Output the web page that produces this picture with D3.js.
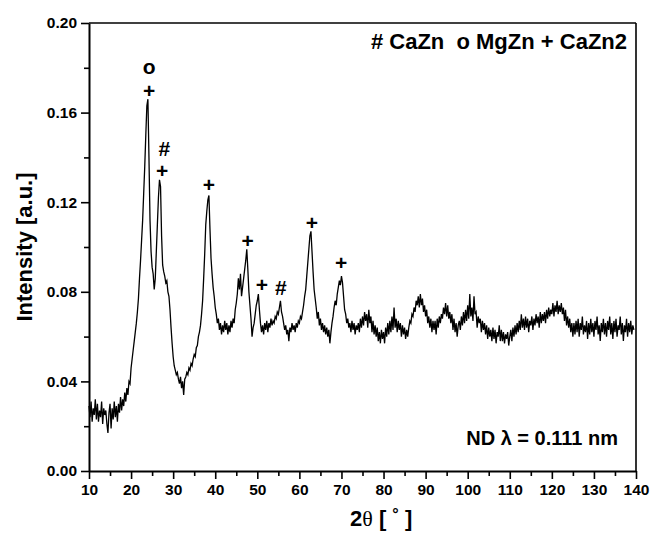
<!DOCTYPE html>
<html>
<head>
<meta charset="utf-8">
<script src="https://cdn.jsdelivr.net/npm/d3@7"></script>
<style>
  body { margin: 0; background: #fff; }
  svg { display: block; font-family: "Liberation Sans", Arial, sans-serif; }
  .tick text { font-weight: bold; font-size: 15.5px; }
</style>
</head>
<body>
<svg width="651" height="533"></svg>
<script>
// scan grid: first angle and step of the measured intensities (degrees 2theta)
const angleStart = 10;
const angleStep = 0.25;

// intensity, one value per 0.25 degree, 8 per row (2 degrees)
const intensity = [
  0.029, 0.024, 0.031, 0.022, 0.028, 0.025, 0.032, 0.023, // 10
  0.030, 0.022, 0.027, 0.024, 0.031, 0.021, 0.028, 0.025, // 12
  0.027, 0.021, 0.017, 0.026, 0.030, 0.019, 0.028, 0.023, // 14
  0.031, 0.024, 0.029, 0.022, 0.030, 0.026, 0.033, 0.027, // 16
  0.032, 0.029, 0.035, 0.031, 0.037, 0.034, 0.040, 0.039, // 18
  0.046, 0.050, 0.054, 0.058, 0.062, 0.066, 0.071, 0.077, // 20
  0.086, 0.094, 0.103, 0.112, 0.124, 0.136, 0.150, 0.163, // 22
  0.166, 0.140, 0.112, 0.098, 0.091, 0.088, 0.081, 0.086, // 24
  0.098, 0.110, 0.122, 0.130, 0.127, 0.105, 0.092, 0.089, // 26
  0.087, 0.084, 0.085, 0.080, 0.078, 0.072, 0.064, 0.057, // 28
  0.051, 0.047, 0.045, 0.043, 0.044, 0.041, 0.039, 0.042, // 30
  0.037, 0.040, 0.034, 0.041, 0.042, 0.044, 0.043, 0.046, // 32
  0.045, 0.048, 0.047, 0.050, 0.052, 0.051, 0.055, 0.056, // 34
  0.060, 0.062, 0.065, 0.070, 0.076, 0.086, 0.097, 0.110, // 36
  0.116, 0.121, 0.123, 0.108, 0.095, 0.088, 0.082, 0.078, // 38
  0.073, 0.070, 0.066, 0.068, 0.063, 0.066, 0.061, 0.065, // 40
  0.062, 0.067, 0.063, 0.066, 0.061, 0.065, 0.062, 0.067, // 42
  0.064, 0.068, 0.066, 0.072, 0.075, 0.079, 0.086, 0.081, // 44
  0.088, 0.078, 0.082, 0.086, 0.090, 0.094, 0.099, 0.090, // 46
  0.080, 0.074, 0.068, 0.060, 0.064, 0.066, 0.070, 0.074, // 48
  0.076, 0.079, 0.072, 0.066, 0.062, 0.065, 0.061, 0.066, // 50
  0.063, 0.067, 0.062, 0.066, 0.064, 0.068, 0.065, 0.067, // 52
  0.066, 0.069, 0.068, 0.071, 0.070, 0.073, 0.076, 0.071, // 54
  0.069, 0.066, 0.063, 0.065, 0.061, 0.063, 0.058, 0.064, // 56
  0.062, 0.066, 0.063, 0.065, 0.062, 0.066, 0.064, 0.067, // 58
  0.066, 0.069, 0.068, 0.071, 0.074, 0.078, 0.081, 0.087, // 60
  0.093, 0.099, 0.105, 0.107, 0.098, 0.089, 0.081, 0.077, // 62
  0.073, 0.068, 0.071, 0.065, 0.068, 0.063, 0.066, 0.062, // 64
  0.065, 0.061, 0.064, 0.060, 0.063, 0.057, 0.062, 0.066, // 66
  0.069, 0.073, 0.076, 0.074, 0.079, 0.082, 0.085, 0.083, // 68
  0.087, 0.084, 0.078, 0.072, 0.070, 0.066, 0.068, 0.064, // 70
  0.066, 0.062, 0.067, 0.063, 0.066, 0.061, 0.065, 0.063, // 72
  0.066, 0.062, 0.068, 0.064, 0.069, 0.065, 0.071, 0.067, // 74
  0.070, 0.064, 0.072, 0.066, 0.069, 0.062, 0.067, 0.061, // 76
  0.065, 0.060, 0.064, 0.058, 0.062, 0.057, 0.063, 0.059, // 78
  0.062, 0.057, 0.064, 0.060, 0.066, 0.061, 0.067, 0.062, // 80
  0.069, 0.063, 0.073, 0.064, 0.068, 0.062, 0.067, 0.063, // 82
  0.066, 0.060, 0.065, 0.061, 0.064, 0.059, 0.063, 0.060, // 84
  0.064, 0.067, 0.066, 0.070, 0.069, 0.073, 0.071, 0.076, // 86
  0.074, 0.078, 0.073, 0.079, 0.074, 0.077, 0.071, 0.074, // 88
  0.069, 0.072, 0.066, 0.069, 0.064, 0.068, 0.062, 0.067, // 90
  0.063, 0.067, 0.061, 0.068, 0.064, 0.069, 0.066, 0.070, // 92
  0.068, 0.073, 0.070, 0.075, 0.069, 0.074, 0.068, 0.071, // 94
  0.066, 0.070, 0.063, 0.068, 0.062, 0.066, 0.060, 0.065, // 96
  0.067, 0.063, 0.069, 0.065, 0.071, 0.066, 0.072, 0.067, // 98
  0.074, 0.068, 0.079, 0.069, 0.073, 0.067, 0.078, 0.070, // 100
  0.071, 0.064, 0.069, 0.066, 0.068, 0.062, 0.067, 0.063, // 102
  0.066, 0.061, 0.065, 0.059, 0.064, 0.060, 0.063, 0.058, // 104
  0.064, 0.059, 0.063, 0.057, 0.062, 0.060, 0.065, 0.058, // 106
  0.063, 0.058, 0.062, 0.057, 0.061, 0.059, 0.062, 0.056, // 108
  0.060, 0.063, 0.058, 0.064, 0.060, 0.065, 0.061, 0.066, // 110
  0.062, 0.067, 0.063, 0.070, 0.064, 0.068, 0.063, 0.069, // 112
  0.064, 0.068, 0.062, 0.067, 0.065, 0.069, 0.063, 0.068, // 114
  0.065, 0.070, 0.066, 0.069, 0.064, 0.071, 0.066, 0.070, // 116
  0.067, 0.071, 0.066, 0.072, 0.068, 0.073, 0.069, 0.072, // 118
  0.070, 0.075, 0.069, 0.074, 0.071, 0.076, 0.070, 0.074, // 120
  0.071, 0.075, 0.070, 0.073, 0.067, 0.072, 0.065, 0.069, // 122
  0.064, 0.068, 0.062, 0.066, 0.060, 0.066, 0.061, 0.067, // 124
  0.062, 0.068, 0.060, 0.066, 0.063, 0.069, 0.061, 0.065, // 126
  0.062, 0.067, 0.059, 0.066, 0.061, 0.068, 0.062, 0.066, // 128
  0.060, 0.067, 0.063, 0.069, 0.061, 0.065, 0.058, 0.066, // 130
  0.062, 0.068, 0.061, 0.066, 0.060, 0.067, 0.063, 0.069, // 132
  0.061, 0.066, 0.059, 0.067, 0.062, 0.068, 0.060, 0.065, // 134
  0.063, 0.069, 0.061, 0.066, 0.058, 0.065, 0.062, 0.068, // 136
  0.060, 0.066, 0.062, 0.067, 0.061, 0.065, 0.063          // 138
];

// phase markers placed above the reflections
const markAngles = [24.3, 24.3, 27.9, 27.4, 38.5, 47.7, 51.1, 55.6, 63.0, 69.9];
const markLevels = [0.1805, 0.170, 0.144, 0.134, 0.128, 0.103, 0.083, 0.082, 0.111, 0.093];
const markSymbols = ["o", "+", "#", "+", "+", "+", "+", "#", "+", "+"];

const xTicks = d3.range(10, 141, 10);
const yTicks = [0, 0.04, 0.08, 0.12, 0.16, 0.20];

const svg = d3.select("svg");
const margin = { top: 23, right: 15, bottom: 62, left: 89 };
const width = 651 - margin.left - margin.right;
const height = 533 - margin.top - margin.bottom;

const x = d3.scaleLinear().domain([10, 140]).range([0, width]);
const y = d3.scaleLinear().domain([0, 0.2]).range([height, 0]);

const g = svg.append("g").attr("transform", `translate(${margin.left},${margin.top})`);

const points = intensity.map((v, i) => [angleStart + i * angleStep, v]);

// data line
const line = d3.line().x(d => x(d[0])).y(d => y(d[1]));
g.append("path")
  .datum(points)
  .attr("fill", "none")
  .attr("stroke", "#000")
  .attr("stroke-width", 1.3)
  .attr("d", line);

// frame top and right
g.append("line").attr("x1", 0).attr("x2", width).attr("y1", 0).attr("y2", 0)
  .attr("stroke", "#000").attr("stroke-width", 1.6);
g.append("line").attr("x1", width).attr("x2", width).attr("y1", 0).attr("y2", height)
  .attr("stroke", "#000").attr("stroke-width", 1.6);

// minor ticks
g.append("g")
  .attr("transform", `translate(0,${height})`)
  .call(d3.axisBottom(x).tickValues(d3.range(15, 140, 10)).tickSize(5).tickFormat(""))
  .call(a => a.select(".domain").remove())
  .selectAll("line").attr("stroke-width", 1.6);
g.append("g")
  .call(d3.axisLeft(y).tickValues([0.02, 0.06, 0.10, 0.14, 0.18]).tickSize(5).tickFormat(""))
  .call(a => a.select(".domain").remove())
  .selectAll("line").attr("stroke-width", 1.6);

// major axes
const xAxis = g.append("g")
  .attr("transform", `translate(0,${height})`)
  .call(d3.axisBottom(x).tickValues(xTicks).tickSize(8).tickPadding(5).tickSizeOuter(0));
const yAxis = g.append("g")
  .call(d3.axisLeft(y).tickValues(yTicks).tickSize(8).tickPadding(4).tickFormat(d3.format(".2f")).tickSizeOuter(0));
[xAxis, yAxis].forEach(a => {
  a.select(".domain").attr("stroke-width", 2);
  a.selectAll(".tick line").attr("stroke-width", 1.6);
  a.selectAll(".tick text").attr("fill", "#000");
});

// phase markers
g.selectAll("text.mark")
  .data(markSymbols)
  .join("text")
  .attr("class", "mark")
  .attr("x", (d, i) => x(markAngles[i]))
  .attr("y", (d, i) => y(markLevels[i]))
  .attr("text-anchor", "middle")
  .attr("dy", "0.35em")
  .attr("font-size", 21)
  .attr("font-weight", "bold")
  .text(d => d);

// legend and wavelength note
svg.append("text")
  .attr("x", 627).attr("y", 49)
  .attr("text-anchor", "end")
  .attr("font-size", 22).attr("font-weight", "bold")
  .attr("xml:space", "preserve")
  .text("# CaZn  o MgZn + CaZn2");
svg.append("text")
  .attr("x", 618).attr("y", 445)
  .attr("text-anchor", "end")
  .attr("font-size", 20).attr("font-weight", "bold")
  .text("ND \u03bb = 0.111 nm");

// axis titles
svg.append("text")
  .attr("transform", `translate(32,${margin.top + height / 2}) rotate(-90)`)
  .attr("text-anchor", "middle")
  .attr("font-size", 22).attr("font-weight", "bold")
  .text("Intensity [a.u.]");

const xt = svg.append("text")
  .attr("x", 350).attr("y", 526)
  .attr("font-size", 22).attr("font-weight", "bold")
  .attr("xml:space", "preserve");
xt.append("tspan").text("2");
xt.append("tspan").attr("font-family", "Liberation Serif, serif").attr("font-weight", "normal").text("\u03b8");
xt.append("tspan").text(" [ ");
xt.append("tspan").attr("dy", -6).attr("font-size", 16).text("\u00b0");
xt.append("tspan").attr("dy", 6).text(" ]");
</script>
</body>
</html>
